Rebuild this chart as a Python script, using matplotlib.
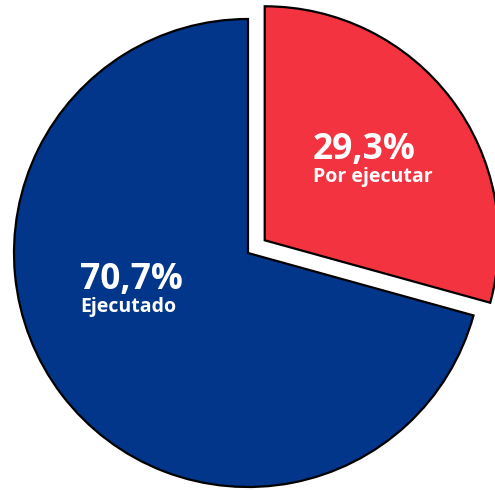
import matplotlib
matplotlib.use("Agg")
import matplotlib.pyplot as plt

# ── Data ────────────────────────────────────────────────────────────────────
labels = ["Por ejecutar", "Ejecutado"]
values = [29.3, 70.7]
colors = ["#f3333f", "#02368a"]

# ── Plot ────────────────────────────────────────────────────────────────────
fig = plt.figure(figsize=(4.95, 4.9), dpi=100)
ax = fig.add_axes([0, 0, 1, 1])

# pie drawn in pixel-like units so the big circle runs off the canvas
wedges, _ = ax.pie(values, colors=colors, radius=234, center=(248, 237),
                   startangle=90, counterclock=False, explode=[21, 0],
                   wedgeprops=dict(edgecolor="black", linewidth=1.6),
                   frame=True)
ax.set_xlim(0, 495)
ax.set_ylim(0, 490)
ax.set_aspect("equal")
ax.axis("off")

def pct(v):
    return f"{v:.1f}%".replace(".", ",")

font = ["Open Sans", "DejaVu Sans"]
pos = [(313, 490 - 150, 490 - 177), (80, 490 - 280, 490 - 307)]
for (x, y1, y2), lab, v in zip(pos, labels, values):
    ax.text(x, y1, pct(v), color="white", fontsize=25.5, fontweight="bold",
            family=font, ha="left", va="center")
    ax.text(x, y2, lab, color="white", fontsize=14, fontweight="bold",
            family=font, ha="left", va="center")

plt.savefig("out.png", dpi=100)
plt.close()
